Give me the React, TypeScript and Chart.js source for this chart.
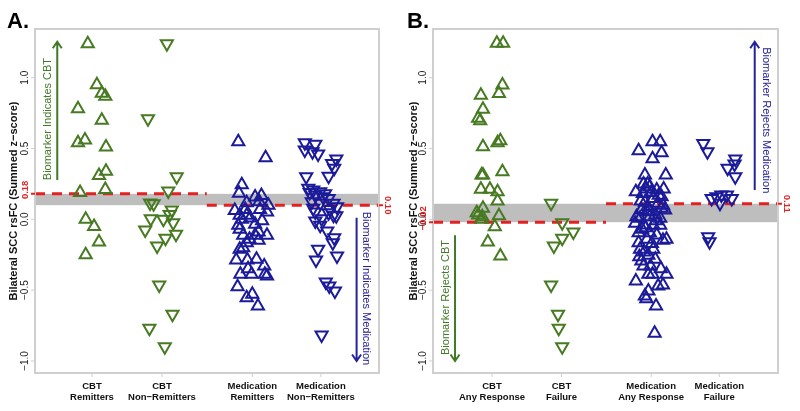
import React, { useEffect, useRef } from "react";
import { Chart, registerables } from "chart.js";

Chart.register(...registerables);

// ---------------- data ----------------
const categoriesA = [["CBT", "Remitters"], ["CBT", "Non\u2212Remitters"], ["Medication", "Remitters"], ["Medication", "Non\u2212Remitters"]];
const categoriesB = [["CBT", "Any Response"], ["CBT", "Failure"], ["Medication", "Any Response"], ["Medication", "Failure"]];
const categoryPositions = [1, 2, 3.29, 4.27];
const yTickValues = [-1, -0.5, 0, 0.5, 1];
const yTickLabels = ["\u22121.0", "\u22120.5", "0.0", "0.5", "1.0"];
const yAxisTitle = "Bilateral SCC rsFC (Summed z\u2212score)";

// Panel A
const cbtRemittersX = [0.94, 1.07, 1.14, 1.19, 0.8, 1.14, 0.8, 0.9, 1.2, 1.2, 1.1, 1.19, 0.83, 0.91, 1.03, 1.1, 0.91];
const cbtRemittersY = [1.24, 0.95, 0.89, 0.87, 0.78, 0.7, 0.54, 0.56, 0.51, 0.34, 0.31, 0.21, 0.19, 0.0, -0.05, -0.16, -0.25];
const cbtNonRemittersX = [2.07, 1.8, 2.21, 2.09, 1.83, 1.88, 2.14, 2.11, 1.84, 2.02, 2.16, 1.76, 2.2, 2.05, 1.93, 1.96, 2.15, 1.82, 2.04];
const cbtNonRemittersY = [1.24, 0.71, 0.3, 0.2, 0.115, 0.11, 0.066, 0.035, 0.004, 0.0, -0.024, -0.075, -0.106, -0.134, -0.188, -0.464, -0.67, -0.769, -0.899];
const medRemittersX = [3.09, 3.48, 3.14, 3.1, 3.42, 3.33, 3.21, 3.39, 3.52, 3.04, 3.19, 3.4, 3.5, 3.11, 3.21, 3.14, 3.33, 3.09, 3.11, 3.38, 3.33, 3.16, 3.5, 3.25, 3.38, 3.21, 3.11, 3.16, 3.06, 3.22, 3.35, 3.46, 3.23, 3.12, 3.28, 3.47, 3.5, 3.08, 3.29, 3.21, 3.37, 3.26, 3.43];
const medRemittersY = [0.548, 0.435, 0.245, 0.185, 0.168, 0.158, 0.118, 0.124, 0.1, 0.062, 0.07, 0.07, 0.052, 0.028, 0.028, 0.0, -0.035, -0.042, -0.07, -0.09, -0.113, -0.113, -0.113, -0.141, -0.148, -0.165, -0.212, -0.2, -0.287, -0.287, -0.282, -0.33, -0.349, -0.388, -0.388, -0.388, -0.4, -0.476, -0.529, -0.553, -0.612, 0.01, -0.01];
const medNonRemittersX = [4.04, 4.19, 4.04, 4.15, 4.23, 4.49, 4.43, 4.46, 4.38, 4.06, 4.09, 4.16, 4.26, 4.19, 4.3, 4.38, 4.14, 4.26, 4.45, 4.5, 4.16, 4.4, 4.19, 4.38, 4.45, 4.49, 4.28, 4.19, 4.26, 4.36, 4.46, 4.44, 4.23, 4.5, 4.2, 4.34, 4.39, 4.47, 4.28, 4.11, 4.33];
const medNonRemittersY = [0.541, 0.531, 0.489, 0.477, 0.461, 0.426, 0.395, 0.36, 0.305, 0.3, 0.219, 0.207, 0.195, 0.171, 0.16, 0.148, 0.124, 0.113, 0.113, 0.089, 0.078, 0.07, 0.052, 0.047, 0.028, 0.025, 0.004, -0.012, -0.042, -0.083, -0.13, -0.165, -0.212, -0.259, -0.287, -0.442, -0.471, -0.506, -0.817, 0.19, 0.18];
const cbtThresholdA = 0.18;
const medThresholdA = 0.1;
const cbtThresholdLabelA = "0.18";
const medThresholdLabelA = "0.10";

// Panel B
const cbtAnyX = [1.07, 1.16, 1.15, 1.1, 0.84, 0.87, 0.8, 0.83, 0.87, 1.08, 1.12, 1.15, 0.85, 0.87, 0.84, 0.97, 1.08, 1.08, 0.87, 0.78, 0.8, 0.86, 1.1, 1.04, 0.94, 1.12, 0.85];
const cbtAnyY = [1.244, 1.244, 0.948, 0.889, 0.877, 0.778, 0.713, 0.696, 0.512, 0.541, 0.555, 0.336, 0.313, 0.313, 0.212, 0.212, 0.195, 0.129, 0.078, 0.047, 0.03, 0.018, 0.025, -0.052, -0.16, -0.259, 0.0];
const cbtFailureX = [1.85, 2.01, 2.17, 2.01, 1.89, 1.85, 1.95, 1.96, 2.01];
const cbtFailureY = [0.113, -0.024, -0.09, -0.134, -0.188, -0.464, -0.67, -0.769, -0.899];
const medAnyX = [3.11, 3.31, 3.42, 3.31, 3.44, 3.2, 3.5, 3.24, 3.27, 3.22, 3.07, 3.17, 3.37, 3.47, 3.44, 3.32, 3.2, 3.39, 3.46, 3.15, 3.23, 3.44, 3.49, 3.08, 3.13, 3.27, 3.42, 3.06, 3.18, 3.32, 3.42, 3.11, 3.27, 3.23, 3.46, 3.51, 3.11, 3.13, 3.32, 3.25, 3.12, 3.35, 3.15, 3.18, 3.43, 3.25, 3.31, 3.51, 3.07, 3.46, 3.39, 3.25, 3.2, 3.22, 3.36, 3.34, 3.24, 3.35, 3.16, 3.37, 3.18, 3.29, 3.4, 3.14, 3.26, 3.36, 3.21, 3.3, 3.19, 3.28];
const medAnyY = [0.484, 0.548, 0.548, 0.427, 0.47, 0.313, 0.313, 0.25, 0.23, 0.215, 0.195, 0.183, 0.207, 0.215, 0.16, 0.148, 0.12, 0.113, 0.1, 0.066, 0.054, 0.078, 0.066, 0.018, 0.007, 0.018, 0.007, -0.028, -0.04, -0.042, -0.042, -0.094, -0.094, -0.141, -0.148, -0.141, -0.165, -0.212, -0.212, -0.254, -0.264, -0.282, -0.294, -0.33, -0.349, -0.388, -0.388, -0.388, -0.435, -0.464, -0.471, -0.506, -0.541, -0.56, -0.612, -0.805, 0.09, 0.03, -0.07, -0.11, 0.25, 0.19, 0.17, 0.13, 0.06, -0.01, -0.06, -0.17, -0.23, -0.33];
const medFailureX = [4.04, 4.1, 4.5, 4.49, 4.39, 4.5, 4.16, 4.23, 4.3, 4.38, 4.45, 4.28, 4.11, 4.13];
const medFailureY = [0.536, 0.477, 0.426, 0.39, 0.36, 0.3, 0.148, 0.16, 0.171, 0.171, 0.148, 0.113, -0.123, -0.158];
const cbtThresholdB = -0.02;
const medThresholdB = 0.11;
const cbtThresholdLabelB = "\u22120.02";
const medThresholdLabelB = "0.11";

// ---------------- styles ----------------
const GREEN = "#477a22";
const GREEN_TEXT = "#3f7a24";
const BLUE = "#1b1b9a";
const BLUE_TEXT = "#23239a";
const RED = "#e52020";
const BAND = "#bebebe";
const FRAME = "#cfcfcf";
const FONT = "'Liberation Sans', Arial, Helvetica, sans-serif";
const Y_MIN = -1.085;
const Y_MAX = 1.344;
const SPLIT_X = 2.64;

type Group = { xs: number[]; ys: number[]; color: string; down: boolean };
type Note = { text: string; color: string; tx: number; ty: number; dir: number; ax: number; a0: number; a1: number };
type Spec = {
  letter: string;
  categories: string[][];
  groups: Group[];
  cbtT: number; cbtL: string; medT: number; medL: string;
  xMin: number; xMax: number; padLeft: number; padRight: number;
  notes: Note[];
};

const specA: Spec = {
  letter: "A.",
  categories: categoriesA,
  groups: [
    { xs: cbtRemittersX, ys: cbtRemittersY, color: GREEN, down: false },
    { xs: cbtNonRemittersX, ys: cbtNonRemittersY, color: GREEN, down: true },
    { xs: medRemittersX, ys: medRemittersY, color: BLUE, down: false },
    { xs: medNonRemittersX, ys: medNonRemittersY, color: BLUE, down: true },
  ],
  cbtT: cbtThresholdA, cbtL: cbtThresholdLabelA, medT: medThresholdA, medL: medThresholdLabelA,
  xMin: 0.186, xMax: 5.1, padLeft: 35, padRight: 21,
  notes: [
    { text: "Biomarker Indicates CBT", color: GREEN_TEXT, tx: 0.375, ty: 0.708, dir: -1, ax: 0.504, a0: 0.278, a1: 1.254 },
    { text: "Biomarker Indicates Medication", color: BLUE_TEXT, tx: 4.91, ty: -0.488, dir: 1, ax: 4.78, a0: 0.012, a1: -1.0 },
  ],
};

const specB: Spec = {
  letter: "B.",
  categories: categoriesB,
  groups: [
    { xs: cbtAnyX, ys: cbtAnyY, color: GREEN, down: false },
    { xs: cbtFailureX, ys: cbtFailureY, color: GREEN, down: true },
    { xs: medAnyX, ys: medAnyY, color: BLUE, down: false },
    { xs: medFailureX, ys: medFailureY, color: BLUE, down: true },
  ],
  cbtT: cbtThresholdB, cbtL: cbtThresholdLabelB, medT: medThresholdB, medL: medThresholdLabelB,
  xMin: 0.151, xMax: 5.115, padLeft: 33, padRight: 22,
  notes: [
    { text: "Biomarker Rejects Medication", color: BLUE_TEXT, tx: 4.94, ty: 0.7, dir: 1, ax: 4.78, a0: 0.207, a1: 1.254 },
    { text: "Biomarker Rejects CBT", color: GREEN_TEXT, tx: 0.335, ty: -0.552, dir: -1, ax: 0.468, a0: -0.113, a1: -1.0 },
  ],
};

function rotText(ctx: CanvasRenderingContext2D, text: string, x: number, y: number, angle: number, font: string, color: string) {
  ctx.save();
  ctx.translate(x, y);
  ctx.rotate(angle);
  ctx.font = font;
  ctx.fillStyle = color;
  ctx.textAlign = "center";
  ctx.textBaseline = "middle";
  ctx.fillText(text, 0, 0);
  ctx.restore();
}

function makeDecor(spec: Spec) {
  return {
    id: "decor" + spec.letter,
    beforeDatasetsDraw(chart: any) {
      const { ctx, chartArea: a, scales } = chart;
      const y = scales.y;
      const hi = y.getPixelForValue(Math.max(spec.cbtT, spec.medT));
      const lo = y.getPixelForValue(Math.min(spec.cbtT, spec.medT));
      ctx.save();
      ctx.fillStyle = BAND;
      ctx.fillRect(a.left, hi, a.right - a.left, lo - hi);
      ctx.restore();
    },
    afterDraw(chart: any) {
      const { ctx, chartArea: a, scales } = chart;
      const x = scales.x;
      const y = scales.y;
      ctx.save();
      // frame
      ctx.strokeStyle = FRAME;
      ctx.lineWidth = 2;
      ctx.strokeRect(a.left, a.top, a.right - a.left, a.bottom - a.top);
      // y ticks
      ctx.lineWidth = 1;
      yTickValues.forEach((v, i) => {
        const py = y.getPixelForValue(v);
        ctx.beginPath();
        ctx.moveTo(a.left - 4, py);
        ctx.lineTo(a.left, py);
        ctx.stroke();
        rotText(ctx, yTickLabels[i], a.left - 10, py, -Math.PI / 2, `10px ${FONT}`, "#1a1a1a");
      });
      // x ticks & labels
      spec.categories.forEach((lines, i) => {
        const px = x.getPixelForValue(categoryPositions[i]);
        ctx.strokeStyle = FRAME;
        ctx.beginPath();
        ctx.moveTo(px, a.bottom);
        ctx.lineTo(px, a.bottom + 4);
        ctx.stroke();
        ctx.font = `bold 9.5px ${FONT}`;
        ctx.fillStyle = "#111";
        ctx.textAlign = "center";
        ctx.textBaseline = "middle";
        lines.forEach((t, j) => ctx.fillText(t, px, a.bottom + 13.5 + j * 10.7));
      });
      // threshold ticks and labels
      ctx.strokeStyle = RED;
      ctx.lineWidth = 2;
      const cy = y.getPixelForValue(spec.cbtT);
      const my = y.getPixelForValue(spec.medT);
      ctx.beginPath();
      ctx.moveTo(a.left - 4, cy);
      ctx.lineTo(a.left, cy);
      ctx.moveTo(a.right, my);
      ctx.lineTo(a.right + 4, my);
      ctx.stroke();
      rotText(ctx, spec.cbtL, a.left - 10, cy - 4, -Math.PI / 2, `bold 9.5px ${FONT}`, RED);
      rotText(ctx, spec.medL, a.right + 9, my, Math.PI / 2, `bold 9.5px ${FONT}`, RED);
      // axis title
      rotText(ctx, yAxisTitle, 14, (a.top + a.bottom) / 2, -Math.PI / 2, `bold 11px ${FONT}`, "#111");
      // panel letter
      ctx.font = `bold 22px ${FONT}`;
      ctx.fillStyle = "#000";
      ctx.textAlign = "left";
      ctx.textBaseline = "alphabetic";
      ctx.fillText(spec.letter, 7, 28);
      // notes with arrows
      spec.notes.forEach((n) => {
        rotText(ctx, n.text, x.getPixelForValue(n.tx), y.getPixelForValue(n.ty), (n.dir * Math.PI) / 2, `11px ${FONT}`, n.color);
        const ax = x.getPixelForValue(n.ax);
        const y0 = y.getPixelForValue(n.a0);
        const y1 = y.getPixelForValue(n.a1);
        const s = y1 < y0 ? 1 : -1;
        ctx.strokeStyle = n.color;
        ctx.lineWidth = 2;
        ctx.beginPath();
        ctx.moveTo(ax, y0);
        ctx.lineTo(ax, y1);
        ctx.moveTo(ax - 4.5, y1 + s * 6.5);
        ctx.lineTo(ax, y1);
        ctx.lineTo(ax + 4.5, y1 + s * 6.5);
        ctx.stroke();
      });
      ctx.restore();
    },
  };
}

function buildConfig(spec: Spec): any {
  const datasets: any[] = spec.groups.map((g) => ({
    type: "scatter",
    data: g.xs.map((v, i) => ({ x: v, y: g.ys[i] })),
    pointStyle: "triangle",
    rotation: g.down ? 180 : 0,
    radius: 7,
    pointBorderWidth: 2,
    borderColor: g.color,
    backgroundColor: "rgba(0,0,0,0)",
    order: 1,
  }));
  datasets.push({
    type: "line",
    data: [{ x: spec.xMin, y: spec.cbtT }, { x: SPLIT_X, y: spec.cbtT }],
    borderColor: RED,
    borderWidth: 3,
    borderDash: [10, 7],
    pointRadius: 0,
    order: 5,
  });
  datasets.push({
    type: "line",
    data: [{ x: SPLIT_X, y: spec.medT }, { x: spec.xMax, y: spec.medT }],
    borderColor: RED,
    borderWidth: 3,
    borderDash: [10, 7],
    pointRadius: 0,
    order: 5,
  });
  return {
    type: "scatter",
    data: { datasets },
    options: {
      animation: false,
      responsive: false,
      devicePixelRatio: 1,
      layout: { padding: { left: spec.padLeft, right: spec.padRight, top: 29, bottom: 38 } },
      plugins: { legend: { display: false }, tooltip: { enabled: false } },
      scales: {
        x: { type: "linear", min: spec.xMin, max: spec.xMax, display: false },
        y: { type: "linear", min: Y_MIN, max: Y_MAX, display: false },
      },
    },
    plugins: [makeDecor(spec)],
  };
}

function Panel({ spec }: { spec: Spec }) {
  const ref = useRef<HTMLCanvasElement | null>(null);
  useEffect(() => {
    if (!ref.current) return;
    const chart = new Chart(ref.current, buildConfig(spec));
    return () => chart.destroy();
  }, [spec]);
  return <canvas ref={ref} width={400} height={411} style={{ display: "block", width: 400, height: 411 }} />;
}

export default function App() {
  return (
    <div style={{ position: "fixed", left: 0, top: 0, width: 800, height: 411, display: "flex", background: "#fff" }}>
      <Panel spec={specA} />
      <Panel spec={specB} />
    </div>
  );
}
